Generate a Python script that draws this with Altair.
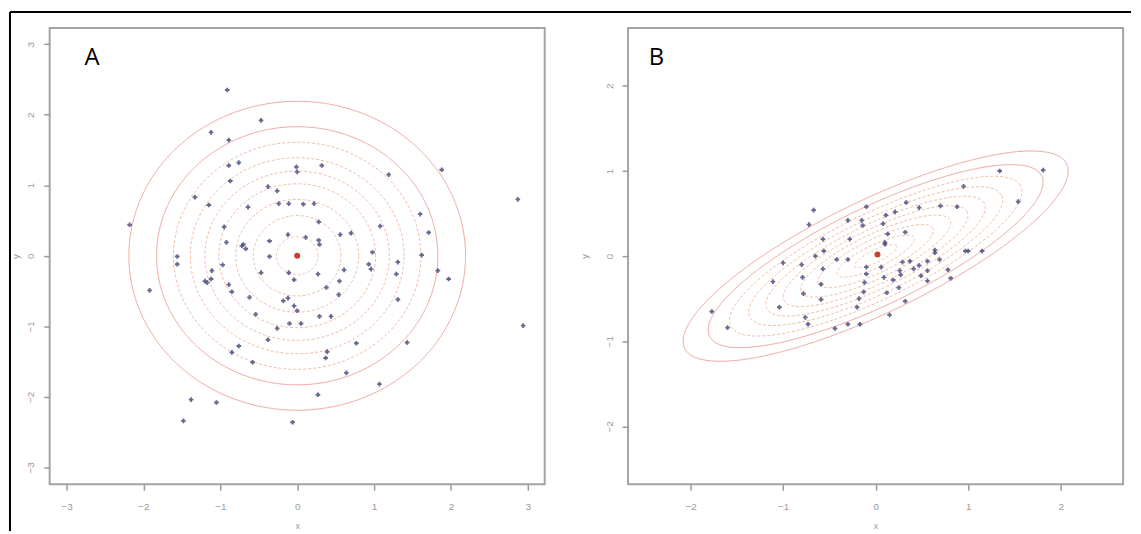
import altair as alt
import numpy as np
import pandas as pd

# ---------------- data ----------------
# Panel A: sample points
a_x = [-0.91, -0.47, -1.12, -0.89, -0.89, -0.76, -0.01, 0.00, 0.32, 1.88, 1.19, -0.87,
       -0.38, -0.26, -1.33, -1.15, -0.64, -0.24, -0.11, 0.08, 0.22, 2.87, 1.60, -2.18,
       0.28, -0.95, 1.08, 1.71, -0.12, 0.11, 0.56, 0.70, -0.36, 0.28, -0.92, -0.70,
       -0.67, 0.29, 0.98, 1.62, -1.56, -1.56, -0.36, -0.97, 1.31, 0.93, 0.96, 0.61,
       -1.11, -0.47, -0.11, 0.27, 1.29, 1.83, -1.12, -1.17, -0.04, 0.55, 1.97, -0.89,
       0.38, -1.92, -0.85, 0.54, -0.62, -0.12, -0.18, 1.31, -0.04, 0.00, -0.54, 0.29,
       0.44, -0.10, 0.05, -0.26, 2.94, -0.38, 0.77, 1.43, -0.76, -0.85, 0.39, 0.37,
       -0.58, 0.64, 1.07, -1.38, -1.05, 0.27, -1.48, -0.06, -0.72, -1.20]
a_y = [2.35, 1.92, 1.75, 1.64, 1.28, 1.32, 1.26, 1.19, 1.28, 1.22, 1.15, 1.06,
       0.98, 0.92, 0.83, 0.72, 0.69, 0.74, 0.74, 0.73, 0.74, 0.80, 0.59, 0.44,
       0.48, 0.41, 0.42, 0.33, 0.30, 0.26, 0.30, 0.32, 0.21, 0.22, 0.19, 0.16,
       0.10, 0.16, 0.05, 0.01, -0.01, -0.12, -0.01, -0.13, -0.09, -0.12, -0.19, -0.20,
       -0.21, -0.24, -0.24, -0.26, -0.26, -0.21, -0.33, -0.38, -0.34, -0.36, -0.33, -0.41,
       -0.45, -0.49, -0.51, -0.55, -0.59, -0.60, -0.64, -0.62, -0.71, -0.78, -0.83, -0.86,
       -0.86, -0.96, -0.96, -1.03, -0.99, -1.19, -1.24, -1.23, -1.28, -1.37, -1.36, -1.45,
       -1.51, -1.66, -1.82, -2.04, -2.08, -1.97, -2.34, -2.36, 0.14, -0.36]

# Panel B: sample points
b_x = [1.34, 1.81, 0.95, 1.54, -0.67, -0.10, 0.33, 0.47, 0.70, 0.88, 0.11, 0.21,
       -0.30, -0.15, -0.72, -0.14, 0.08, 0.32, 0.13, -0.57, -0.28, 0.10, -0.56, -0.65,
       0.64, 0.97, 1.15, -1.00, -0.80, -0.42, -0.30, 0.29, 0.37, 0.47, 0.56, 0.69,
       -0.57, -0.10, 0.06, 0.26, 0.56, 0.78, -0.79, -0.10, 0.09, 0.19, 0.49, 0.56,
       0.81, -1.11, -0.59, -0.12, 0.25, -0.78, -0.13, 0.12, -0.59, -0.18, 0.32, -1.04,
       -0.20, -1.77, -0.76, 0.15, -0.73, -1.60, -0.44, -0.30, -0.17, 0.10, 0.27, 0.41,
       0.64, 1.00]
b_y = [1.00, 1.01, 0.82, 0.64, 0.54, 0.58, 0.63, 0.57, 0.59, 0.58, 0.48, 0.52,
       0.42, 0.42, 0.37, 0.36, 0.38, 0.28, 0.26, 0.20, 0.20, 0.16, 0.06, 0.00,
       0.07, 0.06, 0.06, -0.08, -0.10, -0.04, -0.04, -0.07, -0.06, -0.11, -0.06, -0.04,
       -0.15, -0.13, -0.13, -0.17, -0.17, -0.16, -0.25, -0.21, -0.25, -0.28, -0.23, -0.29,
       -0.26, -0.30, -0.33, -0.31, -0.37, -0.44, -0.42, -0.43, -0.51, -0.50, -0.53, -0.60,
       -0.60, -0.65, -0.72, -0.69, -0.80, -0.84, -0.85, -0.80, -0.80, 0.14, -0.22, -0.15,
       0.04, 0.06]

# centre (mean) markers
a_center_x = [0.0]
a_center_y = [0.0]
b_center_x = [0.02]
b_center_y = [0.02]

# density contours: circle radii for A, ellipse shape and scale factors for B
a_radii = [2.19, 1.83, 1.61, 1.39, 1.20, 1.02, 0.80, 0.57, 0.27]
b_major = 2.33
b_minor = 0.65
b_angle_deg = 28.0
b_scales = [1.0, 0.87, 0.76, 0.66, 0.57, 0.48, 0.39, 0.30, 0.20, 0.11]

panel_labels = ["A", "B"]
a_ticks = [-3, -2, -1, 0, 1, 2, 3]
b_ticks = [-2, -1, 0, 1, 2]
a_xdomain = [-3.22, 3.22]
a_ydomain = [-3.24, 3.23]
b_xdomain = [-2.675, 2.673]
b_ydomain = [-2.68, 2.68]

# ---------------- build tables ----------------
t = np.linspace(0, 2 * np.pi, 241)
rows = []
for k, r in enumerate(a_radii):
    style = "outer" if k < 2 else "inner"
    for i, tt in enumerate(t):
        rows.append({"level": k, "style": style, "i": i,
                     "x": r * np.cos(tt), "y": r * np.sin(tt)})
a_cont = pd.DataFrame(rows)

th = np.deg2rad(b_angle_deg)
rows = []
for k, s in enumerate(b_scales):
    A = b_major * s
    B = b_minor * s
    style = "outer" if k < 2 else "inner"
    for i, tt in enumerate(t):
        x = A * np.cos(tt) * np.cos(th) - B * np.sin(tt) * np.sin(th)
        y = A * np.cos(tt) * np.sin(th) + B * np.sin(tt) * np.cos(th)
        rows.append({"level": k, "style": style, "i": i, "x": x, "y": y})
b_cont = pd.DataFrame(rows)

a_pts = pd.DataFrame({"x": a_x, "y": a_y})
b_pts = pd.DataFrame({"x": b_x, "y": b_y})
a_ctr = pd.DataFrame({"x": a_center_x, "y": a_center_y})
b_ctr = pd.DataFrame({"x": b_center_x, "y": b_center_y})

W, H = 499, 460
GRAY = "#9a9a9a"
PT = "#4c4c7c"


def xaxis(ticks):
    return alt.Axis(values=ticks, format="d", grid=False, domain=False, tickSize=6, tickWidth=1.5,
                    tickColor=GRAY, labelColor=GRAY, labelFontSize=10, labelFont="Liberation Sans",
                    labelPadding=11, labelFlush=False, title="x", titleColor=GRAY,
                    titleFontSize=9, titleFontWeight="normal", titleBaseline="bottom",
                    titleY=47, titleX=W / 2, titleAlign="center")


def yaxis(ticks, title_x):
    return alt.Axis(values=ticks, format="d", grid=False, domain=False, tickSize=6, tickWidth=1.5,
                    tickColor=GRAY, labelColor=GRAY, labelFontSize=10, labelFont="Liberation Sans",
                    labelAngle=270, labelAlign="center", labelBaseline="bottom",
                    labelPadding=8, labelFlush=False, title="y", titleColor=GRAY,
                    titleFontSize=10, titleFontWeight="normal", titleAngle=270,
                    titleAlign="center", titleBaseline="middle", titleX=title_x, titleY=H / 2)


def panel(cont, pts, ctr, label, ticks, xdom, ydom, title_x, lab_x, extra=None):
    xs = alt.Scale(domain=xdom, nice=False, zero=False)
    ys = alt.Scale(domain=ydom, nice=False, zero=False)
    contours = alt.Chart(cont).mark_line(strokeWidth=1, opacity=0.85).encode(
        x=alt.X("x:Q", scale=xs, axis=xaxis(ticks)),
        y=alt.Y("y:Q", scale=ys, axis=yaxis(ticks, title_x)),
        color=alt.Color("style:N", scale=alt.Scale(domain=["outer", "inner"],
                                                   range=["#e8948a", "#eeae94"]), legend=None),
        strokeDash=alt.StrokeDash("style:N", scale=alt.Scale(domain=["outer", "inner"],
                                                             range=[[1, 0], [3, 2]]), legend=None),
        detail="level:N",
        order="i:Q",
    )
    points = alt.Chart(pts).mark_point(shape="cross", filled=True, size=22, color=PT,
                                       opacity=0.85).encode(x="x:Q", y="y:Q")
    center = alt.Chart(ctr).mark_point(shape="circle", filled=True, size=36,
                                       color="#cc3322", opacity=0.95).encode(x="x:Q", y="y:Q")
    text = alt.Chart(pd.DataFrame({"label": [label]})).mark_text(
        font="Open Sans", fontSize=24, align="left", baseline="alphabetic", color="black"
    ).encode(x=alt.value(lab_x), y=alt.value(37), text="label:N")
    layers = [contours, points, center, text]
    if extra is not None:
        layers += extra
    return alt.layer(*layers).properties(width=W, height=H)


frame_df = pd.DataFrame({"k": [0]})
frame_top = alt.Chart(frame_df).mark_rule(color="black", strokeWidth=2).encode(
    x=alt.value(-40), x2=alt.value(1090), y=alt.value(-16))
frame_left = alt.Chart(frame_df).mark_rule(color="black", strokeWidth=2).encode(
    x=alt.value(-40), y=alt.value(-16), y2=alt.value(507))

pa = panel(a_cont, a_pts, a_ctr, panel_labels[0], a_ticks, a_xdomain, a_ydomain, -34, 35,
           extra=[frame_top, frame_left])
pb = panel(b_cont, b_pts, b_ctr, panel_labels[1], b_ticks, b_xdomain, b_ydomain, -44, 21)

chart = alt.hconcat(pa, pb, spacing=84, bounds="flush").properties(
    padding={"left": 0, "top": 0, "right": 0, "bottom": 0},
    background="white",
).configure_view(stroke="#a3a3a3", strokeWidth=2)

chart.save("out.html", embed_options={"renderer": "svg", "actions": False})
